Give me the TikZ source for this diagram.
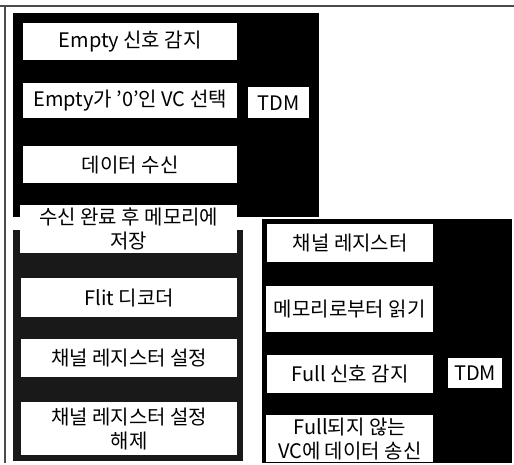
\documentclass[tikz,border=0pt]{standalone}
\usepackage{fontspec}
\setmainfont{Noto Sans CJK KR}
\begin{document}
\begin{tikzpicture}[x=1pt,y=-1pt,
  wbox/.style={fill=white, draw=none, inner sep=0pt, anchor=north west, align=center,
    font=\fontsize{20}{24}\selectfont},
  region/.style={fill=black, draw=none},
  halftone/.style={fill=black!90, draw=none},
  frameline/.style={draw=black!70, line width=1.2pt}]
\useasboundingbox (0,0) rectangle (514,465);
% outer frame lines
\draw[frameline] (0,6) -- (514,6);
\draw[frameline] (5,6) -- (5,463);
% regions
\fill[region] (13,13) rectangle (319,217);
\fill[halftone] (13,230) rectangle (243,461);
\fill[region] (262,219) rectangle (512,463);
% upper-left boxes
\node[wbox, minimum width=214pt, minimum height=37pt] (e1) at (23,23) {Empty 신호 감지};
\node[wbox, minimum width=214pt, minimum height=35pt] (e2) at (23,83) {Empty가 '0'인 VC 선택};
\node[wbox, minimum width=61pt, minimum height=31pt] (tdm1) at (248,87) {TDM};
\node[wbox, minimum width=214pt, minimum height=37pt] (e3) at (23,146) {데이터 수신};
\node[wbox, minimum width=217pt, minimum height=48pt] (e4) at (20,205) {수신 완료 후 메모리에\\저장};
% lower-left boxes
\node[wbox, minimum width=216pt, minimum height=39pt] (e5) at (21,278) {Flit 디코더};
\node[wbox, minimum width=216pt, minimum height=38pt] (e6) at (21,339) {채널 레지스터 설정};
\node[wbox, minimum width=216pt, minimum height=53pt] (e7) at (21,402) {채널 레지스터 설정\\해제};
% right boxes
\node[wbox, minimum width=166pt, minimum height=38pt] (r1) at (267,224) {채널 레지스터};
\node[wbox, minimum width=167pt, minimum height=46pt] (r2) at (266,286) {메모리로부터 읽기};
\node[wbox, minimum width=166pt, minimum height=38pt] (r3) at (267,355) {Full 신호 감지};
\node[wbox, minimum width=54pt, minimum height=30pt] (tdm2) at (448,358) {TDM};
\node[wbox, minimum width=167pt, minimum height=47pt] (r4) at (266,415) {Full되지 않는\\VC에 데이터 송신};
\end{tikzpicture}
\end{document}
